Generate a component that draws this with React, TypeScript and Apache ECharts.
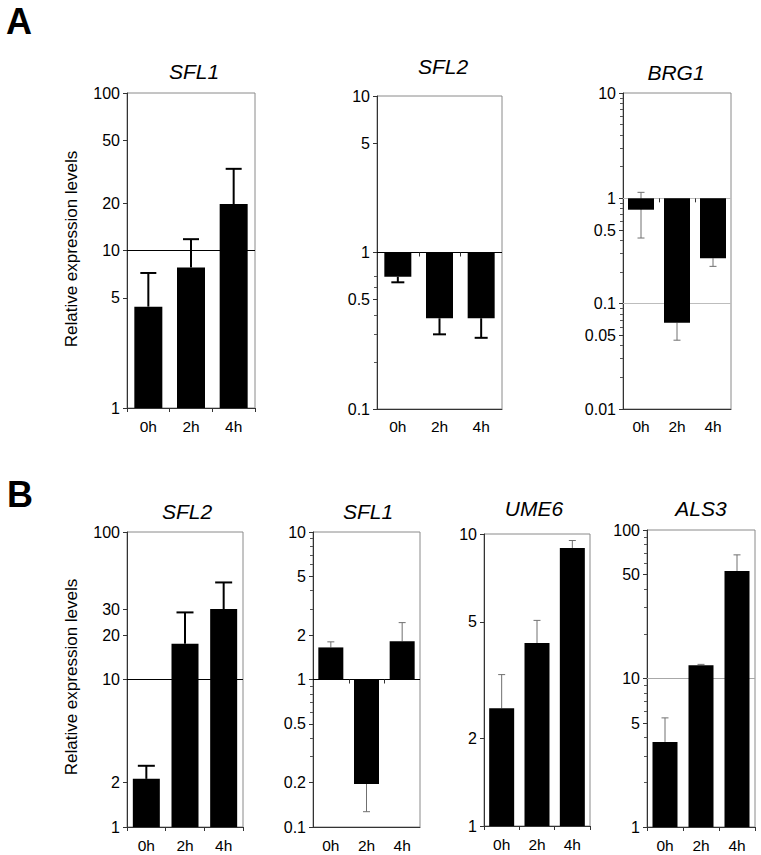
import React, { useEffect, useRef } from 'react';
import * as echarts from 'echarts';

const FONT = '"Liberation Sans", Arial, Helvetica, sans-serif';

const categories = ['0h', '2h', '4h'];

// ---- Panel A ----
const aSFL1Values = [4.4, 7.8, 19.7];
const aSFL1ErrUp = [7.2, 11.8, 33];
const aSFL1ErrDown = [null, null, null];
const aSFL1Ticks = [1, 5, 10, 20, 50, 100];
const aSFL1Minor: number[] = [];
const aSFL1Grid = [10];

const aSFL2Values = [0.7, 0.38, 0.38];
const aSFL2ErrUp = [null, null, null];
const aSFL2ErrDown = [0.645, 0.3, 0.285];
const aSFL2Ticks = [0.1, 0.5, 1, 5, 10];
const aSFL2Minor = [0.2, 0.3, 0.4, 0.6, 0.7];
const aSFL2Grid = [1];

const aBRG1Values = [0.78, 0.066, 0.27];
const aBRG1ErrUp = [1.14, null, null];
const aBRG1ErrDown = [0.42, 0.045, 0.226];
const aBRG1Ticks = [0.01, 0.05, 0.1, 0.5, 1, 10];
const aBRG1Minor = [0.02, 0.03, 0.04, 0.06, 0.07, 0.08, 0.09, 0.2, 0.3, 0.4, 0.6, 0.7, 0.8, 0.9, 2, 3, 4, 5, 6, 7, 8, 9];
const aBRG1Grid = [0.1, 1];

// ---- Panel B ----
const bSFL2Values = [2.12, 17.5, 30];
const bSFL2ErrUp = [2.6, 28.5, 45.5];
const bSFL2ErrDown = [null, null, null];
const bSFL2Ticks = [1, 2, 10, 20, 30, 100];
const bSFL2Minor: number[] = [];
const bSFL2Grid = [10];

const bSFL1Values = [1.65, 0.196, 1.82];
const bSFL1ErrUp = [1.8, null, 2.43];
const bSFL1ErrDown = [null, 0.127, null];
const bSFL1Ticks = [0.1, 0.2, 0.5, 1, 2, 5, 10];
const bSFL1Minor = [0.3, 0.4, 0.6, 0.7, 0.8, 0.9, 3, 4, 6, 7, 8, 9];
const bSFL1Grid = [1];

const bUME6Values = [2.53, 4.23, 8.96];
const bUME6ErrUp = [3.3, 5.06, 9.5];
const bUME6ErrDown = [null, null, null];
const bUME6Ticks = [1, 2, 5, 10];
const bUME6Minor: number[] = [];
const bUME6Grid: number[] = [];

const bALS3Values = [3.74, 12.3, 53];
const bALS3ErrUp = [5.43, 12.45, 68];
const bALS3ErrDown = [null, null, null];
const bALS3Ticks = [1, 5, 10, 50, 100];
const bALS3Minor = [2, 3, 4, 6, 7, 8, 9, 20, 30, 40, 60, 70, 80, 90];
const bALS3Grid = [10];

const yAxisTitle = 'Relative expression levels';

type Panel = {
  title: string;
  values: number[];
  errUp: (number | null)[];
  errDown: (number | null)[];
  ticks: number[];
  minor: number[];
  gridVals: number[];
  min: number;
  max: number;
  grid: { left: number; top: number; width: number; height: number };
  titlePos: [number, number];
  barWidth: number;
  errColor: string;
  errWidth: number;
  cap: number;
  gridColor: string;
  baseTicks: boolean;
  labelMargin: number;
};

const BLACK_ERR = { errColor: '#000', errWidth: 2 };
const GRAY_ERR = { errColor: '#707070', errWidth: 1, cap: 7 };

const panels: Panel[] = [
  {
    title: 'SFL1', values: aSFL1Values, errUp: aSFL1ErrUp, errDown: aSFL1ErrDown,
    ticks: aSFL1Ticks, minor: aSFL1Minor, gridVals: aSFL1Grid, min: 1, max: 100,
    grid: { left: 127, top: 93, width: 128, height: 315 }, titlePos: [194, 71],
    barWidth: 28, ...BLACK_ERR, cap: 16, gridColor: '#000', baseTicks: false, labelMargin: 10,
  },
  {
    title: 'SFL2', values: aSFL2Values, errUp: aSFL2ErrUp, errDown: aSFL2ErrDown,
    ticks: aSFL2Ticks, minor: aSFL2Minor, gridVals: aSFL2Grid, min: 0.1, max: 10,
    grid: { left: 377, top: 96, width: 125, height: 313 }, titlePos: [443, 66],
    barWidth: 27, ...BLACK_ERR, cap: 13, gridColor: '#000', baseTicks: true, labelMargin: 9,
  },
  {
    title: 'BRG1', values: aBRG1Values, errUp: aBRG1ErrUp, errDown: aBRG1ErrDown,
    ticks: aBRG1Ticks, minor: aBRG1Minor, gridVals: aBRG1Grid, min: 0.01, max: 10,
    grid: { left: 623, top: 93, width: 108, height: 316 }, titlePos: [676, 72],
    barWidth: 26, ...GRAY_ERR, gridColor: '#bdbdbd', baseTicks: true, labelMargin: 9,
  },
  {
    title: 'SFL2', values: bSFL2Values, errUp: bSFL2ErrUp, errDown: bSFL2ErrDown,
    ticks: bSFL2Ticks, minor: bSFL2Minor, gridVals: bSFL2Grid, min: 1, max: 100,
    grid: { left: 127, top: 532, width: 116, height: 295 }, titlePos: [187, 511],
    barWidth: 27, ...BLACK_ERR, cap: 17, gridColor: '#000', baseTicks: false, labelMargin: 10,
  },
  {
    title: 'SFL1', values: bSFL1Values, errUp: bSFL1ErrUp, errDown: bSFL1ErrDown,
    ticks: bSFL1Ticks, minor: bSFL1Minor, gridVals: bSFL1Grid, min: 0.1, max: 10,
    grid: { left: 313, top: 532, width: 107, height: 295 }, titlePos: [368, 511],
    barWidth: 25, ...GRAY_ERR, gridColor: '#000', baseTicks: true, labelMargin: 10,
  },
  {
    title: 'UME6', values: bUME6Values, errUp: bUME6ErrUp, errDown: bUME6ErrDown,
    ticks: bUME6Ticks, minor: bUME6Minor, gridVals: bUME6Grid, min: 1, max: 10,
    grid: { left: 484, top: 534, width: 106, height: 292 }, titlePos: [534, 508],
    barWidth: 25, ...GRAY_ERR, gridColor: '#000', baseTicks: false, labelMargin: 10,
  },
  {
    title: 'ALS3', values: bALS3Values, errUp: bALS3ErrUp, errDown: bALS3ErrDown,
    ticks: bALS3Ticks, minor: bALS3Minor, gridVals: bALS3Grid, min: 1, max: 100,
    grid: { left: 647, top: 530, width: 108, height: 297 }, titlePos: [701, 508],
    barWidth: 25, ...GRAY_ERR, gridColor: '#a8a8a8', baseTicks: false, labelMargin: 10,
  },
];

const fmt = (v: number) => String(+Number(v).toPrecision(6));

function buildOption() {
  const grid: any[] = [];
  const xAxis: any[] = [];
  const yAxis: any[] = [];
  const series: any[] = [];
  const graphic: any[] = [];

  panels.forEach((p, i) => {
    grid.push({
      ...p.grid,
      show: true,
      borderColor: '#8a8a8a',
      borderWidth: 1,
      backgroundColor: 'transparent',
      containLabel: false,
      outerBoundsMode: 'none',
    });
    xAxis.push({
      type: 'category',
      gridIndex: i,
      data: categories,
      axisLine: { show: true, lineStyle: { color: '#333', width: 1 } },
      axisTick: { show: !p.baseTicks, length: 4, interval: 0, lineStyle: { color: '#333' } },
      axisLabel: { margin: p.labelMargin, fontSize: 15.5, fontFamily: FONT, color: '#000', interval: 0 },
      splitLine: { show: false },
    });
    yAxis.push({
      type: 'log',
      logBase: 10,
      gridIndex: i,
      min: p.min,
      max: p.max,
      axisLine: { show: true, lineStyle: { color: '#333', width: 1 } },
      axisTick: { show: true, length: 4, customValues: p.ticks, lineStyle: { color: '#333' } },
      axisLabel: {
        show: true,
        customValues: p.ticks,
        formatter: (v: number) => fmt(v),
        margin: 7,
        fontSize: 16,
        fontFamily: FONT,
        color: '#000',
      },
      splitLine: { show: false },
      minorTick: { show: false },
      minorSplitLine: { show: false },
    });
    yAxis.push({
      type: 'log',
      logBase: 10,
      gridIndex: i,
      min: p.min,
      max: p.max,
      position: 'left',
      axisLine: { show: false },
      axisTick: {
        show: p.minor.length > 0,
        length: 3,
        customValues: p.minor.length ? p.minor : undefined,
        lineStyle: { color: '#555' },
      },
      axisLabel: { show: false, customValues: p.minor.length ? p.minor : undefined },
      splitLine: { show: false },
    });

    series.push({
      type: 'bar',
      name: p.title + i,
      xAxisIndex: i,
      yAxisIndex: 2 * i,
      data: p.values,
      barWidth: p.barWidth,
      itemStyle: { color: '#000' },
      z: 3,
      markLine: p.gridVals.length
        ? {
            silent: true,
            z: 1,
            symbol: ['none', 'none'],
            label: { show: false },
            lineStyle: { color: p.gridColor, width: 1, type: 'solid' },
            data: p.gridVals.map((v) => ({ yAxis: v })),
          }
        : undefined,
    });

    const errData = p.values.map((v, k) => [
      k,
      p.errDown[k] ?? v,
      p.errUp[k] ?? v,
      v,
      p.errDown[k] == null ? 0 : 1,
      p.errUp[k] == null ? 0 : 1,
    ]);

    series.push({
      type: 'custom',
      name: 'err' + i,
      xAxisIndex: i,
      yAxisIndex: 2 * i,
      z: 2,
      data: errData,
      encode: { x: 0, y: [1, 2] },
      renderItem: (params: any, api: any) => {
        const idx = api.value(0);
        const lo = api.value(1);
        const hi = api.value(2);
        const hasLo = api.value(4) === 1;
        const hasHi = api.value(5) === 1;
        const pLo = api.coord([idx, lo]);
        const pHi = api.coord([idx, hi]);
        const x = pLo[0];
        const style = { stroke: p.errColor, lineWidth: p.errWidth };
        const children: any[] = [];
        if (hasLo || hasHi) {
          children.push({ type: 'line', shape: { x1: x, y1: pLo[1], x2: x, y2: pHi[1] }, style });
        }
        const half = p.cap / 2;
        if (hasLo) {
          children.push({ type: 'line', shape: { x1: x - half, y1: pLo[1], x2: x + half, y2: pLo[1] }, style });
        }
        if (hasHi) {
          children.push({ type: 'line', shape: { x1: x - half, y1: pHi[1], x2: x + half, y2: pHi[1] }, style });
        }
        if (p.baseTicks && params.dataIndex > 0) {
          const bw = api.size([1, 0], [idx, 1])[0];
          const base = api.coord([idx, 1]);
          const bx = Math.round(x - bw / 2) + 0.5;
          children.push({
            type: 'line',
            shape: { x1: bx, y1: base[1], x2: bx, y2: base[1] + 4 },
            style: { stroke: '#333', lineWidth: 1 },
          });
        }
        return { type: 'group', children };
      },
    });

    graphic.push({
      type: 'text',
      x: p.titlePos[0],
      y: p.titlePos[1],
      style: {
        text: p.title,
        font: `italic 21px ${FONT}`,
        fill: '#000',
        align: 'center',
        verticalAlign: 'middle',
      },
    });
  });

  graphic.push(
    {
      type: 'text',
      x: 19,
      y: 21,
      style: { text: 'A', font: `bold 36px ${FONT}`, fill: '#000', align: 'center', verticalAlign: 'middle' },
    },
    {
      type: 'text',
      x: 20,
      y: 494,
      style: { text: 'B', font: `bold 36px ${FONT}`, fill: '#000', align: 'center', verticalAlign: 'middle' },
    },
    {
      type: 'text',
      x: 71,
      y: 249,
      rotation: Math.PI / 2,
      style: { text: yAxisTitle, font: `17px ${FONT}`, fill: '#000', align: 'center', verticalAlign: 'middle' },
    },
    {
      type: 'text',
      x: 71,
      y: 677,
      rotation: Math.PI / 2,
      style: { text: yAxisTitle, font: `17px ${FONT}`, fill: '#000', align: 'center', verticalAlign: 'middle' },
    }
  );

  return {
    animation: false,
    backgroundColor: '#ffffff',
    grid,
    xAxis,
    yAxis,
    series,
    graphic,
  };
}

export default function App() {
  const ref = useRef<HTMLDivElement>(null);
  useEffect(() => {
    if (!ref.current) return;
    const chart = echarts.init(ref.current, undefined, { renderer: 'svg' });
    chart.setOption(buildOption() as any);
    return () => chart.dispose();
  }, []);
  return (
    <div
      ref={ref}
      style={{ position: 'absolute', left: 0, top: 0, width: 761, height: 855, background: '#fff' }}
    />
  );
}
